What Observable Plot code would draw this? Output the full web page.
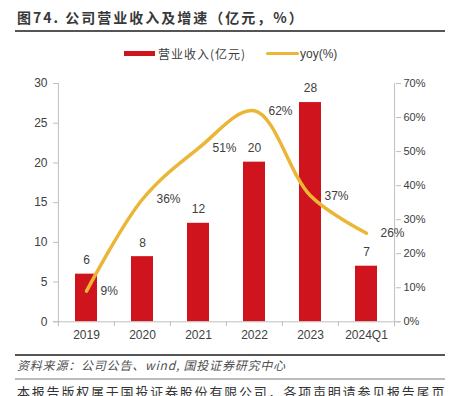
<!DOCTYPE html>
<html>
<head>
<meta charset="utf-8">
<script src="https://cdn.jsdelivr.net/npm/d3@7"></script>
<script src="https://cdn.jsdelivr.net/npm/@observablehq/plot@0.6"></script>
<style>
  html, body { margin: 0; padding: 0; background: #fff; overflow: hidden; }
  #wrap { position: relative; width: 454px; height: 396px; overflow: hidden; font-family: "Noto Sans CJK SC", "Liberation Sans", sans-serif; }
  .abs { position: absolute; white-space: nowrap; }
  #title { left: 17px; top: 7px; font-size: 14px; font-weight: bold; color: #383838; letter-spacing: 2px; line-height: 20px; }
  .rule { position: absolute; left: 15px; width: 430px; height: 2px; }
  #legend { left: 0; top: 45px; width: 454px; height: 18px; font-size: 12px; color: #404040; }
  .sw { position: absolute; }
  #chart { left: 0; top: 60px; }
  #source { left: 17px; top: 357px; font-size: 12px; font-style: italic; color: #505050; letter-spacing: 0.8px; line-height: 16px; }
  #disc { left: 17px; top: 382px; font-size: 13px; color: #333; letter-spacing: 1.8px; line-height: 20px; }
</style>
</head>
<body>
<div id="wrap">
  <div id="title" class="abs">图74. 公司营业收入及增速（亿元，%）</div>
  <div class="rule" style="top:30px;background:#555;"></div>
  <div id="legend" class="abs">
    <div class="sw" style="left:124px;top:6px;width:31px;height:5px;background:#D0141E;"></div>
    <div class="abs" style="left:158px;top:0;line-height:18px;letter-spacing:1px;">营业收入(亿元)</div>
    <div class="sw" style="left:266px;top:7px;width:33px;height:3px;background:#EBB535;border-radius:2px;"></div>
    <div class="abs" style="left:300px;top:0;line-height:18px;font-family:'Liberation Sans',sans-serif;">yoy(%)</div>
  </div>
  <div id="chart" class="abs"></div>
  <div class="rule" style="top:354px;background:#555;"></div>
  <div id="source" class="abs">资料来源：公司公告、wind, 国投证券研究中心</div>
  <div class="rule" style="top:378px;background:#bbb;"></div>
  <div id="disc" class="abs">本报告版权属于国投证券股份有限公司，各项声明请参见报告尾页</div>
</div>
<script>
const categories = ["2019", "2020", "2021", "2022", "2023", "2024Q1"];
const revenue = [6.0, 8.2, 12.4, 20.1, 27.6, 7.0];
const revenueLabels = ["6", "8", "12", "20", "28", "7"];
const yoy = [9, 36, 51, 62, 37, 26];
const yoyLabels = ["9%", "36%", "51%", "62%", "37%", "26%"];
const leftTicks = [0, 5, 10, 15, 20, 25, 30];
const rightTicks = [0, 10, 20, 30, 40, 50, 60, 70];

const leftMax = 30, rightMax = 70;
const toLeft = p => p * leftMax / rightMax;

const W = 454, H = 290, mL = 58, mR = 59, mT = 23, mB = 28.7;
const step = (W - mL - mR) / categories.length;
const pxPerUnit = (H - mT - mB) / leftMax;

const data = categories.map((c, i) => ({
  cat: c, rev: revenue[i], revLabel: revenueLabels[i],
  yoy: yoy[i], yoyY: toLeft(yoy[i]), yoyLabel: yoyLabels[i]
}));

const axisColor = "#bfbfbf";
const textColor = "#404040";

const chart = Plot.plot({
  width: W, height: H,
  marginLeft: mL, marginRight: mR, marginTop: mT, marginBottom: mB,
  style: { fontFamily: "'Liberation Sans', Arial, sans-serif", fontSize: "12px", color: textColor, background: "transparent" },
  x: { type: "band", domain: categories, paddingInner: 0.6, paddingOuter: 0.3, axis: null },
  y: { domain: [0, leftMax], axis: null },
  marks: [
    Plot.barY(data, { x: "cat", y: "rev", fill: "#D0141E" }),
    Plot.ruleY([0], { stroke: axisColor, insetLeft: -5, insetRight: -5 }),
    Plot.ruleX([categories[0]], { x: d => d, dx: -step / 2, y1: -5 / pxPerUnit, y2: leftMax, stroke: axisColor }),
    Plot.ruleX([categories[categories.length - 1]], { x: d => d, dx: step / 2, y1: -5 / pxPerUnit, y2: leftMax, stroke: axisColor }),
    Plot.ruleX(categories.slice(1), { x: d => d, dx: -step / 2, y1: -5 / pxPerUnit, y2: 0, stroke: axisColor }),
    Plot.axisY(leftTicks, { anchor: "left", tickSize: 5, tickPadding: 6, stroke: axisColor, color: textColor, fontSize: 12, label: null }),
    Plot.axisY(rightTicks.map(toLeft), { anchor: "right", tickSize: 5, tickPadding: 3, stroke: axisColor, color: textColor, fontSize: 11, label: null,
      tickFormat: d => Math.round(d * rightMax / leftMax) + "%" }),
    Plot.axisX(categories, { anchor: "bottom", tickSize: 0, tickPadding: 9, color: textColor, fontSize: 12, label: null }),
    Plot.text(data, { x: "cat", y: "rev", text: "revLabel", dy: -14, fill: textColor, fontSize: 12 }),
    Plot.line(data, { x: "cat", y: "yoyY", stroke: "#EBB535", strokeWidth: 3.5, curve: "catmull-rom", strokeLinecap: "round" }),
    Plot.text(data, { x: "cat", y: "yoyY", text: "yoyLabel", dx: 14, textAnchor: "start", fill: textColor, fontSize: 12 })
  ]
});
document.getElementById("chart").appendChild(chart);
</script>
</body>
</html>
